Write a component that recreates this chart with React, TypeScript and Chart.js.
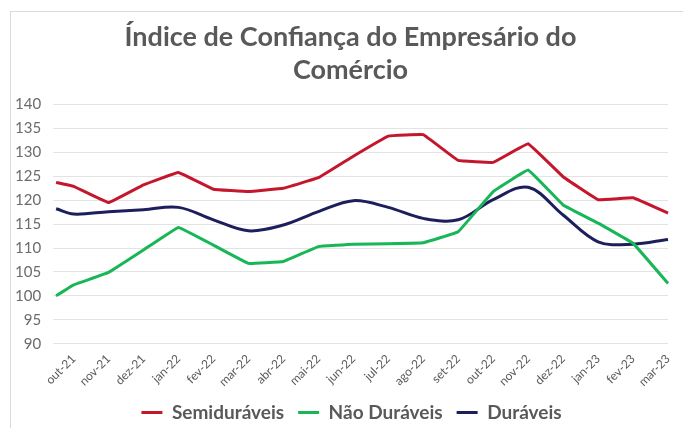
import React, { useEffect, useRef } from "react";
import { Chart, registerables } from "chart.js";

Chart.register(...registerables);

const titleLines = ["Índice de Confiança do Empresário do", "Comércio"];
const months = [
  "out-21", "nov-21", "dez-21", "jan-22", "fev-22", "mar-22", "abr-22", "mai-22", "jun-22",
  "jul-22", "ago-22", "set-22", "out-22", "nov-22", "dez-22", "jan-23", "fev-23", "mar-23",
];
// first value = reading half a month before out-21, then one value per month
const semiduraveis = [123.7, 122.9, 119.5, 123.2, 125.8, 122.3, 121.8, 122.5, 124.7, 129.2, 133.4, 133.7, 128.3, 127.9, 131.8, 124.9, 120.1, 120.5, 117.3];
const naoDuraveis = [100.0, 102.3, 104.9, 109.6, 114.3, 110.6, 106.8, 107.2, 110.3, 110.8, 110.9, 111.1, 113.4, 121.8, 126.3, 119.0, 115.2, 111.0, 102.6];
const duraveis = [118.2, 117.1, 117.6, 118.0, 118.5, 115.9, 113.6, 114.8, 117.6, 119.9, 118.5, 116.2, 115.9, 120.1, 122.7, 116.9, 111.3, 110.8, 111.8];
const seriesNames = ["Semiduráveis", "Não Duráveis", "Duráveis"];
const seriesColors = ["#C4162C", "#17B657", "#1C1F5C"];
const yMin = 90;
const yMax = 140;
const yStep = 5;

// half-month slots: slot 0 = start, odd slots = months
const slotLabels: string[] = [""];
months.forEach((m, i) => {
  if (i > 0) slotLabels.push("");
  slotLabels.push(m);
});
function toSlots(values: number[]): (number | null)[] {
  const out: (number | null)[] = [values[0]];
  for (let i = 1; i < values.length; i++) {
    if (i > 1) out.push(null);
    out.push(values[i]);
  }
  return out;
}

const centerShift = {
  id: "centerShift",
  afterLayout(chart: any) {
    const t = chart.titleBlock;
    if (t) {
      t.left += 15;
      t.right += 15;
    }
    const l = chart.legend;
    if (l) {
      l.left += 16;
      l.right += 16;
    }
  },
};

export default function App() {
  const ref = useRef<HTMLCanvasElement>(null);
  useEffect(() => {
    if (!ref.current) return;
    const all = [semiduraveis, naoDuraveis, duraveis];
    const chart = new Chart(ref.current, {
      type: "line",
      data: {
        labels: slotLabels,
        datasets: all.map((vals, i) => ({
          label: seriesNames[i],
          data: toSlots(vals),
          borderColor: seriesColors[i],
          backgroundColor: seriesColors[i],
          borderWidth: 3,
          pointRadius: 0,
          spanGaps: true,
          tension: i === 2 ? 0.35 : 0.05,
        })),
      },
      plugins: [centerShift],
      options: {
        animation: false,
        responsive: false,
        layout: { padding: { left: 3, right: 15, top: 16, bottom: -4 } },
        plugins: {
          title: {
            display: true,
            text: titleLines,
            color: "#595959",
            font: { family: "Lato", size: 27, weight: "bold", lineHeight: 1.25 },
            padding: { top: 4, bottom: 17 },
          },
          legend: {
            position: "bottom",
            labels: {
              color: "#595959",
              font: { family: "Lato", size: 19, weight: "bold" },
              boxWidth: 21,
              boxHeight: 3,
              padding: 14,
              generateLabels: (c: any) =>
                Chart.defaults.plugins.legend.labels.generateLabels(c).map((l: any) => ({ ...l, lineWidth: 0 })),
            },
          },
          tooltip: { enabled: false },
        },
        scales: {
          x: {
            offset: false,
            grid: { display: false },
            border: { display: false },
            ticks: {
              autoSkip: false,
              maxRotation: 45,
              minRotation: 45,
              color: "#595959",
              font: { family: "Lato", size: 12 },
              padding: 0,
            },
          },
          y: {
            min: yMin,
            max: yMax,
            border: { display: false },
            grid: { color: "#E3E3E3", lineWidth: 1, tickLength: 3 },
            ticks: {
              stepSize: yStep,
              color: "#6B6B6B",
              font: { family: "Lato", size: 15 },
              padding: 12,
            },
          },
        },
      },
    });
    return () => chart.destroy();
  }, []);
  return (
    <div style={{ position: "fixed", left: 0, top: 0, width: 683, height: 428, overflow: "hidden", background: "#fff" }}>
      <canvas ref={ref} width={683} height={428} style={{ position: "absolute", left: 0, top: 0 }} />
      <div
        style={{
          position: "absolute",
          left: 10,
          top: 11,
          width: 700,
          height: 500,
          border: "1px solid #DADADA",
          pointerEvents: "none",
        }}
      />
    </div>
  );
}
